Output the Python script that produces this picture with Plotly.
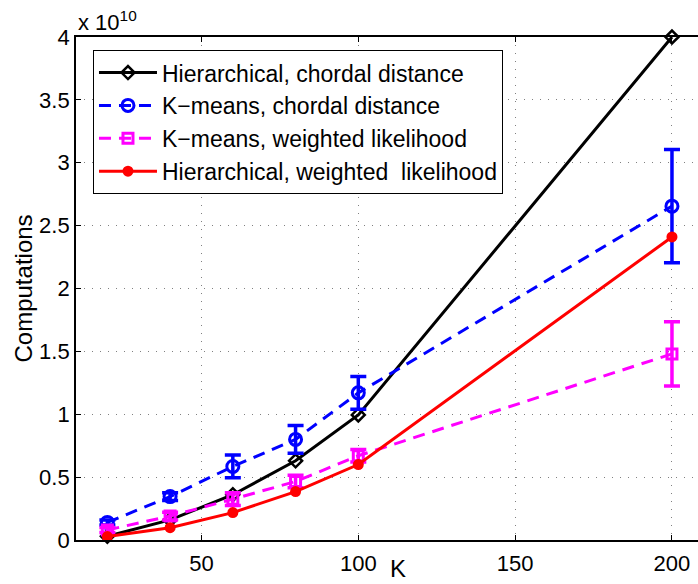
import plotly.graph_objects as go

# Number of clusters K
k_values = [20, 40, 60, 80, 100, 200]

# Computations, in units of 1e10
hier_chordal = [0.03, 0.16, 0.36, 0.63, 0.995, 4.0]
kmeans_chordal = [0.14, 0.345, 0.585, 0.80, 1.17, 2.655]
kmeans_chordal_err = [0.02, 0.03, 0.09, 0.11, 0.13, 0.45]
kmeans_weighted = [0.08, 0.19, 0.325, 0.465, 0.67, 1.48]
kmeans_weighted_err = [0.02, 0.03, 0.05, 0.05, 0.05, 0.255]
hier_weighted = [0.027, 0.098, 0.218, 0.385, 0.60, 2.41]

series_names = [
    "Hierarchical, chordal distance",
    "K\u2212means, chordal distance",
    "K\u2212means, weighted likelihood",
    "Hierarchical, weighted  likelihood",
]

x_ticks = [50, 100, 150, 200]
y_ticks = [0, 0.5, 1, 1.5, 2, 2.5, 3, 3.5, 4]
y_tick_text = ["0", "0.5", "1", "1.5", "2", "2.5", "3", "3.5", "4"]

FONT = "Liberation Sans, Arial, sans-serif"

fig = go.Figure()

fig.add_trace(go.Scatter(
    x=k_values, y=hier_chordal, name=series_names[0], mode="lines+markers",
    line=dict(color="black", width=3),
    marker=dict(symbol="diamond-open", size=10, color="black", line=dict(width=2.5)),
    cliponaxis=False,
))
fig.add_trace(go.Scatter(
    x=k_values, y=kmeans_chordal, name=series_names[1], mode="lines+markers",
    line=dict(color="#0000ff", width=3, dash="12px,8px"),
    marker=dict(symbol="circle-open", size=12, color="#0000ff", line=dict(width=3)),
    error_y=dict(type="data", array=kmeans_chordal_err, color="#0000ff",
                 thickness=3.5, width=8),
    cliponaxis=False,
))
fig.add_trace(go.Scatter(
    x=k_values, y=kmeans_weighted, name=series_names[2], mode="lines+markers",
    line=dict(color="#ff00ff", width=3, dash="12px,8px"),
    marker=dict(symbol="square-open", size=10, color="#ff00ff", line=dict(width=3)),
    error_y=dict(type="data", array=kmeans_weighted_err, color="#ff00ff",
                 thickness=3.5, width=8),
    cliponaxis=False,
))
fig.add_trace(go.Scatter(
    x=k_values, y=hier_weighted, name=series_names[3], mode="lines+markers",
    line=dict(color="#ff0000", width=3),
    marker=dict(symbol="circle", size=11, color="#ff0000"),
    cliponaxis=False,
))

grid_style = dict(showgrid=True, gridcolor="#808080", gridwidth=1, griddash="1px,7px")

fig.update_xaxes(
    range=[10, 208.3], tickvals=x_ticks, ticks="inside", ticklen=5,
    tickcolor="black", showline=True, linecolor="black", linewidth=1.8,
    mirror="ticks", zeroline=False, ticklabelstandoff=3,
    tickfont=dict(family=FONT, size=22, color="black"), **grid_style,
)
fig.update_yaxes(
    range=[0, 4], tickvals=y_ticks, ticktext=y_tick_text, ticks="inside",
    ticklen=5, tickcolor="black", showline=True, linecolor="black",
    linewidth=1.8, mirror=False, zeroline=False,
    tickfont=dict(family=FONT, size=22, color="black"), **grid_style,
)

fig.add_annotation(
    text="Computations", textangle=-90, xref="paper", yref="paper",
    x=-0.0852, y=0.5, xanchor="center", yanchor="middle", showarrow=False,
    font=dict(family=FONT, size=24, color="black"),
)
fig.add_annotation(
    text="K", xref="x", yref="paper", x=112.5, y=-0.0557,
    xanchor="center", yanchor="middle", showarrow=False,
    font=dict(family=FONT, size=24, color="black"),
)
fig.add_annotation(
    text="x 10<sup>10</sup>", xref="paper", yref="paper", x=0, y=1.0,
    xanchor="left", yanchor="bottom", showarrow=False,
    font=dict(family=FONT, size=22, color="black"),
)

fig.update_layout(
    width=698, height=584,
    margin=dict(l=76, r=0, t=37, b=44),
    paper_bgcolor="white", plot_bgcolor="white",
    font=dict(family=FONT, size=22, color="black"),
    showlegend=True,
    legend=dict(
        x=0.0273, y=0.974, xanchor="left", yanchor="top",
        bgcolor="white", bordercolor="black", borderwidth=1,
        font=dict(family=FONT, size=23, color="black"),
        itemwidth=58, tracegroupgap=0,
    ),
)

fig.write_html("out.html")
